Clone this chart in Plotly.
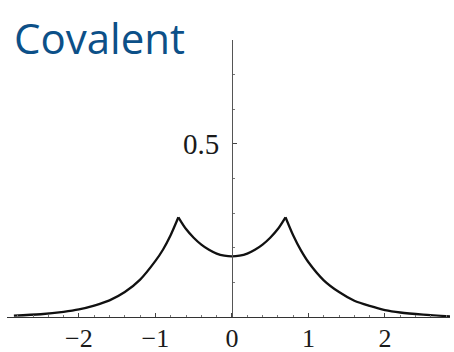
import plotly.graph_objects as go

# Covalent-bond amplitude profile along the internuclear axis
x_left = [-2.85, -2.5, -2.2, -2.0, -1.8, -1.6, -1.4, -1.2, -1.0, -0.9, -0.8, -0.7]
y_left = [0.004, 0.008, 0.015, 0.022, 0.033, 0.048, 0.072, 0.108, 0.162, 0.195, 0.237, 0.288]

x_mid = [-0.7, -0.6, -0.5, -0.4, -0.3, -0.2, -0.1, 0.0, 0.1, 0.2, 0.3, 0.4, 0.5, 0.6, 0.7]
y_mid = [0.288, 0.254, 0.229, 0.209, 0.194, 0.183, 0.177, 0.175, 0.177, 0.183, 0.194,
         0.209, 0.229, 0.254, 0.288]

x_right = [0.7, 0.8, 0.9, 1.0, 1.2, 1.4, 1.6, 1.8, 2.0, 2.2, 2.5, 2.85]
y_right = [0.288, 0.236, 0.193, 0.158, 0.106, 0.072, 0.047, 0.032, 0.020, 0.013, 0.007, 0.002]

x_ticks = [-2, -1, 0, 1, 2]
y_ticks = [0.5]

X_RANGE = [-2.94, 2.85]
Y_RANGE = [0, 0.8]

fig = go.Figure()
# each smooth piece drawn separately so the cusps at the nuclei stay sharp
for xs, ys in [(x_left, y_left), (x_mid, y_mid), (x_right, y_right)]:
    fig.add_trace(go.Scatter(x=xs, y=ys, mode="lines",
                             line=dict(color="#111111", width=2.3, shape="spline",
                                       smoothing=0.8),
                             hoverinfo="skip"))

serif = "Liberation Serif, Times New Roman, serif"

fig.update_layout(
    width=454, height=352,
    margin=dict(l=7, r=4, t=40, b=35),
    paper_bgcolor="white", plot_bgcolor="white",
    showlegend=False,
    xaxis=dict(range=X_RANGE, tickvals=x_ticks, ticks="inside", ticklen=4,
               tickcolor="#444444", showline=True, linecolor="#333333", linewidth=1,
               showgrid=False, zeroline=False, automargin=False,
               tickfont=dict(family=serif, size=26, color="#1a1a1a"),
               minor=dict(dtick=0.2, tick0=0, ticks="inside", ticklen=2, tickcolor="#777777"),
               ticklabelstandoff=-2),
    yaxis=dict(range=Y_RANGE, tickvals=y_ticks, ticks="inside", ticklen=4,
               tickcolor="#444444", showline=True, linecolor="#555555", linewidth=1,
               showgrid=False, zeroline=False, automargin=False,
               tickfont=dict(family=serif, size=29, color="#1a1a1a"),
               anchor="free", position=(0 - X_RANGE[0]) / (X_RANGE[1] - X_RANGE[0]),
               minor=dict(dtick=0.1, tick0=0, ticks="inside", ticklen=2, tickcolor="#777777"),
               ticklabelstandoff=7),
    annotations=[dict(text="Covalent", xref="paper", yref="paper",
                      x=(12 - 7) / 443, y=(317 - 38) / 277,
                      xanchor="left", yanchor="middle", showarrow=False,
                      font=dict(family="Open Sans, Noto Sans, sans-serif", size=42,
                                color="#0c5088"))],
)

fig.write_html("out.html")
